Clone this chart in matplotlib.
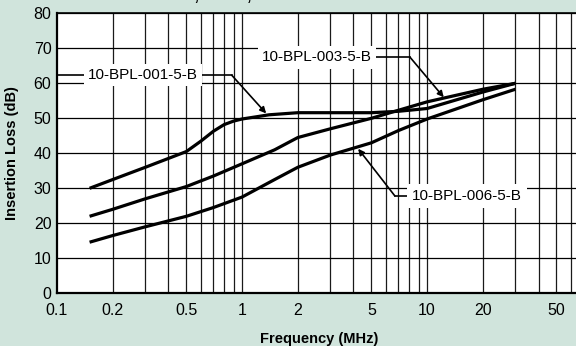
import matplotlib
matplotlib.use("Agg")
import matplotlib.pyplot as plt
from matplotlib.ticker import FixedLocator, NullFormatter, FixedFormatter

plt.rcParams['font.family'] = ['Liberation Sans', 'DejaVu Sans']

# Data
freq_001 = [0.15, 0.2, 0.3, 0.5, 0.6, 0.7, 0.8, 0.9, 1.0, 1.4, 2.0, 3.0, 5.0, 7.0, 10.0, 20.0, 30.0]
loss_001 = [30.0, 32.5, 36.0, 40.5, 43.5, 46.3, 48.2, 49.2, 49.8, 51.0, 51.6, 51.6, 51.6, 52.0, 52.8, 57.5, 60.0]

freq_003 = [0.15, 0.2, 0.3, 0.5, 0.7, 1.0, 1.5, 2.0, 3.0, 5.0, 7.0, 10.0, 20.0, 30.0]
loss_003 = [22.0, 24.0, 27.0, 30.5, 33.5, 37.0, 41.0, 44.5, 47.0, 50.0, 52.3, 54.7, 58.3, 60.0]

freq_006 = [0.15, 0.2, 0.3, 0.5, 0.7, 1.0, 1.5, 2.0, 3.0, 5.0, 7.0, 10.0, 20.0, 30.0]
loss_006 = [14.6, 16.5, 19.0, 22.0, 24.5, 27.5, 32.5, 36.0, 39.5, 43.0, 46.5, 49.8, 55.3, 58.3]

x_ticks = [0.1, 0.2, 0.5, 1, 2, 5, 10, 20, 50]
x_tick_labels = ["0.1", "0.2", "0.5", "1", "2", "5", "10", "20", "50"]
y_ticks = [0, 10, 20, 30, 40, 50, 60, 70, 80]

label_001 = "10-BPL-001-5-B"
label_003 = "10-BPL-003-5-B"
label_006 = "10-BPL-006-5-B"
title_text = "10-BPL-001, 003, 006"

bg = "#d0e4dc"
fig = plt.figure(figsize=(5.76, 3.46), dpi=100, facecolor=bg)
ax = fig.add_axes([57/576, (346-293.3)/346, 1 - 57/576 + 0.01, (293.3-13.3)/346])
ax.set_facecolor("white")
ax.set_xscale("log")
ax.set_xlim(0.1, 68.5)
ax.set_ylim(0, 80)

# grid
minor = [m * 10.0**e for e in range(-1, 2) for m in range(2, 10)]
for v in minor + [1, 10]:
    if 0.1 < v < 68.5:
        ax.axvline(v, color="#1a1a1a", lw=0.9, zorder=1)
for v in y_ticks[1:]:
    ax.axhline(v, color="#000000", lw=0.9, zorder=1)

ax.xaxis.set_major_locator(FixedLocator(x_ticks))
ax.xaxis.set_major_formatter(FixedFormatter(x_tick_labels))
ax.xaxis.set_minor_locator(FixedLocator([]))
ax.xaxis.set_minor_formatter(NullFormatter())
ax.set_yticks(y_ticks)
ax.tick_params(axis="both", length=0, labelsize=11.5, colors="black")
ax.tick_params(axis="x", pad=7)
ax.tick_params(axis="y", pad=4)

for s in ["right", "top"]:
    ax.spines[s].set_visible(False)
ax.spines["left"].set_linewidth(1.6)
ax.spines["bottom"].set_linewidth(1.6)
ax.axhline(80, color="black", lw=1.2, zorder=3, clip_on=False)

lw = 2.3
ax.plot(freq_001, loss_001, color="black", lw=lw, zorder=4, solid_capstyle="butt")
ax.plot(freq_003, loss_003, color="black", lw=lw, zorder=4, solid_capstyle="butt")
ax.plot(freq_006, loss_006, color="black", lw=lw, zorder=4, solid_capstyle="butt")

ax.set_xlabel("Frequency (MHz)", fontsize=10.5, fontweight="bold", labelpad=10)
ax.set_ylabel("Insertion Loss (dB)", fontsize=10.5, fontweight="bold")
ax.yaxis.set_label_coords(-0.073, 0.5)

box = dict(facecolor="white", edgecolor="none", pad=3)
arrow = dict(arrowstyle="-|>", color="black", lw=1.2, mutation_scale=9, shrinkA=0, shrinkB=0)

# 001 label
ax.plot([0.1, 0.88], [62.3, 62.3], color="black", lw=1.2, zorder=5)
ax.text(0.29, 62.3, label_001, fontsize=11, ha="center", va="center", bbox=box, zorder=6)
ax.annotate("", xy=(1.35, 51.4), xytext=(0.88, 62.3), arrowprops=arrow, zorder=6)

# 003 label
ax.plot([2.6, 8.1], [67.4, 67.4], color="black", lw=1.2, zorder=5)
ax.text(2.55, 67.4, label_003, fontsize=11, ha="center", va="center", bbox=box, zorder=6)
ax.annotate("", xy=(12.3, 56.0), xytext=(8.1, 67.4), arrowprops=arrow, zorder=6)

# 006 label
ax.plot([6.7, 16.0], [27.8, 27.8], color="black", lw=1.2, zorder=5)
ax.text(16.4, 27.8, label_006, fontsize=11, ha="center", va="center",
        bbox=dict(facecolor="white", edgecolor="none", pad=3.5), zorder=6)
ax.annotate("", xy=(4.24, 41.3), xytext=(6.7, 27.8), arrowprops=arrow, zorder=6)

# title, cut off at the top edge as in the reference
fig.text(68/576, 0.999, title_text, fontsize=17, ha="left", va="baseline", color="black")

fig.savefig("out.png", dpi=100, facecolor=bg)
